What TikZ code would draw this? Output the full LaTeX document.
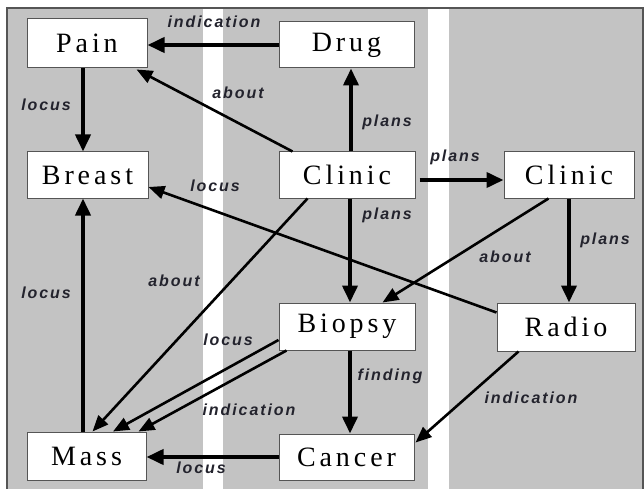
\documentclass[tikz,border=0pt]{standalone}
\usepackage{fontspec}
\setmainfont{Liberation Serif}
\newfontfamily\lblfont[LetterSpace=12]{Liberation Sans}
\newfontfamily\boxfont[LetterSpace=14]{Liberation Serif}
\usetikzlibrary{arrows.meta,calc}
\definecolor{bggray}{RGB}{195,195,195}
\definecolor{framegray}{RGB}{85,85,85}
\definecolor{lblcol}{RGB}{35,35,45}
\tikzset{
  box/.style={draw=framegray, line width=1pt, fill=white, inner sep=0pt,
    font=\boxfont\fontsize{28}{30}\selectfont},
  lbl/.style={font=\lblfont\bfseries\itshape\fontsize{16}{18}\selectfont, text=lblcol, inner sep=0pt},
  thick arrow/.style={line width=3.8pt, -{Triangle[length=17pt,width=15pt]}},
  thin arrow/.style={line width=2.6pt, -{Triangle[length=16pt,width=13pt]}},
}
\begin{document}
\begin{tikzpicture}[x=1pt,y=-1pt]
\useasboundingbox (0,0) rectangle (644,489);
% background
\fill[bggray] (7,8) rectangle (643,495);
\fill[white] (203,9) rectangle (223,495);
\fill[white] (428,9) rectangle (449,495);
\draw[framegray, line width=1.5pt] (7,495) -- (7,8) -- (643,8) -- (643,495);
% nodes
\node[box, minimum width=120pt, minimum height=49pt] (pain) at (87,43.5) {Pain};
\node[box, minimum width=135pt, minimum height=46pt] (drug) at (346.5,45) {Drug};
\node[box, minimum width=121pt, minimum height=46pt] (breast) at (87.5,175) {Breast};
\node[box, minimum width=136pt, minimum height=46pt] (clin1) at (347,175) {Clinic};
\node[box, minimum width=130pt, minimum height=46pt] (clin2) at (569,175) {Clinic};
\node[box, minimum width=136pt, minimum height=47pt] (biopsy) at (347,326.5) {Biopsy};
\node[box, minimum width=138pt, minimum height=48pt] (radio) at (566,327) {Radio};
\node[box, minimum width=119pt, minimum height=48pt] (mass) at (86.5,456) {Mass};
\node[box, minimum width=135pt, minimum height=46pt] (cancer) at (346.5,457) {Cancer};
% edges
\draw[thick arrow] (drug.west) -- (drug.west -| pain.east);
\draw[thick arrow] ($(pain.south)+(-4,0)$) -- ($(breast.north)+(-4.5,0)$);
\draw[thin arrow] ($(clin1.north west)+(14,0)$) -- ($(pain.south east)+(-11,1)$);
\draw[thick arrow] ($(clin1.north)+(4,0)$) -- ($(drug.south)+(4.5,0)$);
\draw[thick arrow, shorten <=4pt] ($(clin1.east)+(0,5)$) -- ($(clin2.west)+(0,5)$);
\draw[thick arrow] ($(clin1.south)+(3,0)$) -- ($(biopsy.north)+(3,0)$);
\draw[thin arrow] ($(clin1.south west)+(29,0)$) -- ($(mass.north)+(6,0)$);
\draw[thin arrow] ($(clin2.south west)+(45,0)$) -- ($(biopsy.north east)+(-33,0)$);
\draw[thick arrow] (clin2.south) -- (clin2.south |- radio.north);
\draw[thin arrow] ($(radio.north west)+(0,10)$) -- ($(breast.east)+(0,12)$);
\draw[thin arrow] ($(biopsy.west)+(0,13.5)$) -- ($(mass.north)+(26.5,0)$);
\draw[thin arrow] ($(biopsy.south west)+(8,0)$) -- ($(mass.north east)+(-8,0)$);
\draw[thick arrow] ($(biopsy.south)+(3,0)$) -- ($(cancer.north)+(3.5,0)$);
\draw[thin arrow] ($(radio.south west)+(22,0)$) -- ($(cancer.north east)+(1,9)$);
\draw[thick arrow] (cancer.west) -- (cancer.west -| mass.east);
\draw[thick arrow] ($(mass.north)+(-3.5,0)$) -- ($(breast.south)+(-4.5,0)$);
% labels
\node[lbl] (l1) at (214,22) {indication};
\node[lbl] (l2) at (46,105) {locus};
\node[lbl] (l3) at (238,93) {about};
\node[lbl] (l4) at (387,122) {plans};
\node[lbl] (l5) at (455,157) {plans};
\node[lbl] (l6) at (387,215) {plans};
\node[lbl] (l7) at (215,186) {locus};
\node[lbl] (l8) at (174,281) {about};
\node[lbl] (l9) at (505,257) {about};
\node[lbl] (l10) at (605,240) {plans};
\node[lbl] (l11) at (46,293) {locus};
\node[lbl] (l12) at (228,340) {locus};
\node[lbl] (l13) at (390,376) {finding};
\node[lbl] (l14) at (249,410) {indication};
\node[lbl] (l15) at (531,398) {indication};
\node[lbl] (l16) at (201,468) {locus};
\end{tikzpicture}
\end{document}
